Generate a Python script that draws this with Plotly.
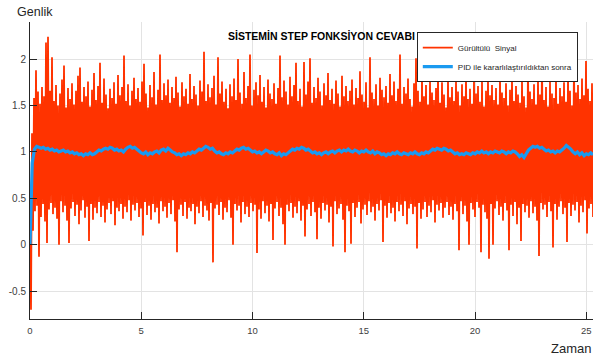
import numpy as np
import plotly.graph_objects as go

# Noisy step response (values in hundredths)
noisy_hundredths = [
    10, -70, 120, 15, 158, 36, 188, 42, 165, -13, 152, 30, 170, 44, 160, 25, 218, 2, 224, 38,
    166, 45, 202, 33, 155, 40, 172, 28, 150, 0, 163, 47, 178, 35, 193, 42, 148, 26, 169, 2,
    157, 39, 174, 46, 151, 31, 166, 43, 182, 22, 191, 37, 154, 48, 170, 29, 160, 41, 176, 4,
    149, 44, 167, 27, 185, 40, 156, 34, 171, 46, 196, 30, 153, 42, 179, 24, 162, 38, 147, 45,
    168, 33, 158, 47, 175, 21, 152, 40, 183, 36, 161, 44, 170, 28, 204, 41, 155, 35, 173, 48,
    150, 26, 166, 43, 180, 37, 157, 45, 169, 30, 154, 39, 176, 10, 195, 46, 163, 32, 148, 42,
    172, 27, 159, 44, 186, 35, 151, 40, 167, 23, 205, 47, 156, 36, 174, 41, 161, 29, 178, 45,
    153, 33, 170, 48, 158, 25, 181, -8, 164, 38, 149, 43, 175, 31, 160, 46, 168, 28, 152, 40,
    184, 36, 157, 44, 171, 22, 162, 41, 150, 34, 177, 47, 165, 30, 208, 42, 155, 37, 173, 26,
    159, 45, 169, -19, 182, 39, 151, 43, 202, 32, 163, 46, 176, 27, 154, 40, 168, 35, 147, 48,
    173, 29, 160, 0, 179, 44, 156, 37, 200, 42, 164, 24, 152, 46, 186, 33, 158, 41, 171, 30,
    205, 45, 150, 36, 167, 43, 175, -9, 161, 38, 183, 28, 154, 47, 170, 34, 148, 42, 178, 25,
    163, 44, 157, 5, 174, 39, 152, 46, 169, 31, 204, 40, 159, 22, 177, 0, 165, 43, 151, 36,
    181, 45, 160, 29, 172, 41, 196, 34, 155, 47, 168, 26, 149, 42, 197, 9, 162, 38, 176, 44,
    201, 31, 153, 46, 170, 35, 158, 6, 180, 40, 165, 28, 150, 45, 174, 37, 161, 43, 185, 24,
    156, 41, 168, -2, 152, 47, 177, 33, 163, 39, 149, 44, 182, 27, 160, -8, 171, 42, 155, 36,
    166, 1, 178, 45, 151, 30, 169, 40, 158, 46, 187, 23, 162, 38, 154, 43, 175, 32, 148, 47,
    202, 35, 164, 41, 157, 26, 173, 44, 150, 37, 180, 48, 167, 3, 159, 42, 171, 29, 153, 45,
    184, 34, 161, 40, 176, 25, 155, 46, 168, 36, 205, 43, 152, 31, 170, 47, 163, 22, 179, 39,
    157, 44, 149, 33, 174, 41, 201, -4, 166, 45, 154, 28, 183, 38, 160, 46, 172, 30, 151, 42,
    178, 35, 164, 48, 156, 24, 169, 43, 186, 37, 153, 45, 175, 29, 162, 40, 148, 46, 181, 32,
    159, 41, 170, 27, 155, 44, 177, 36, 165, -6, 150, 47, 173, 33, 160, 42, 184, 25, 157, 0,
    168, 45, 152, 38, 179, 30, 163, 46, 171, 40, 154, -8, 176, 43, 149, 35, 166, 28, 182, -15,
    161, 44, 172, 0, 156, 39, 169, 47, 151, 32, 185, 41, 164, 26, 158, 45, 174, 37, 150, -6,
    167, 43, 180, 31, 155, 46, 171, 22, 162, 40, 153, 4, 177, 44, 160, 35, 148, 42, 197, 29,
    165, 47, 157, 34, 173, 41, 151, 26, 183, -12, 162, 45, 203, 38, 156, 43, 170, 30, 149, 46,
    176, 36, 163, -3, 158, 44, 181, 27, 152, 41, 169, 47, 160, 33, 175, 40, 154, 3, 186, 45,
    166, 31, 150, 43, 201, 37, 164, 46, 172, 24, 157, 42, 179, 35, 161, 48, 198, 12, 168, 39,
    155, 44, 174, 30,
]

pid_response = [
    0.00, 0.88, 1.03, 1.06, 1.05, 1.04, 1.05, 1.03, 1.04, 1.02,
    1.03, 1.01, 1.02, 1.00, 1.01, 1.02, 1.00, 1.01, 0.99, 1.00,
    0.98, 0.99, 0.97, 0.98, 0.96, 0.98, 0.97, 0.99, 0.97, 0.98,
    1.00, 1.02, 1.01, 1.03, 1.04, 1.03, 1.05, 1.04, 1.02, 1.03,
    1.01, 1.02, 1.00, 1.03, 1.05, 1.06, 1.04, 1.05, 1.03, 1.01,
    0.99, 0.98, 1.00, 0.97, 0.99, 0.98, 1.00, 1.01, 0.99, 1.02,
    1.03, 1.01, 1.04, 1.02, 1.00, 0.99, 0.97, 0.98, 0.96, 0.98,
    0.97, 0.99, 0.98, 1.00, 0.99, 1.01, 1.03, 1.02, 1.04, 1.06,
    1.05, 1.03, 1.04, 1.01, 0.99, 1.00, 0.98, 0.97, 0.99, 0.98,
    1.00, 0.99, 1.01, 1.03, 1.02, 1.04, 1.05, 1.03, 1.04, 1.02,
    1.00, 1.01, 0.99, 1.00, 0.98, 1.00, 1.02, 1.01, 0.99, 1.00,
    0.98, 0.97, 0.99, 0.96, 0.98, 0.97, 0.99, 1.01, 1.03, 1.02,
    1.04, 1.03, 1.05, 1.04, 1.02, 1.03, 1.01, 0.99, 1.00, 0.98,
    0.99, 0.97, 0.99, 1.00, 0.98, 1.00, 1.01, 0.99, 1.01, 1.02,
    1.00, 1.02, 1.01, 1.03, 1.01, 1.00, 1.02, 1.01, 0.99, 1.01,
    1.00, 1.02, 1.00, 0.99, 1.01, 0.98, 1.00, 0.99, 0.97, 0.98,
    0.96, 0.98, 0.97, 0.99, 0.98, 1.00, 0.98, 0.97, 0.99, 0.98,
    0.97, 0.99, 0.98, 1.00, 0.98, 0.97, 0.99, 0.98, 1.00, 0.99,
    1.01, 1.03, 1.02, 1.04, 1.03, 1.02, 1.04, 1.03, 1.01, 1.02,
    1.00, 0.98, 0.99, 0.97, 0.98, 0.97, 0.99, 0.98, 0.97, 0.99,
    0.98, 1.00, 0.99, 1.01, 0.99, 1.00, 0.98, 1.00, 0.99, 1.01,
    1.00, 0.99, 1.01, 1.00, 0.98, 1.00, 0.99, 1.01, 1.00, 0.98,
    0.95, 0.97, 0.94, 0.98, 1.02, 1.04, 1.06, 1.05, 1.06, 1.04,
    1.05, 1.03, 1.01, 1.02, 1.00, 1.01, 0.99, 1.01, 1.00, 1.02,
    1.04, 1.07, 1.05, 1.03, 1.00, 0.98, 1.00, 0.97, 0.99, 0.96,
    0.98, 0.97, 0.99, 0.97,
]

T_END = 25.3
x_ticks = [0, 5, 10, 15, 20, 25]
y_ticks = [-0.5, 0, 0.5, 1, 1.5, 2]
y_tick_labels = ["-0.5", "0", "0.5", "1", "1.5", "2"]

noisy = np.array(noisy_hundredths) / 100.0
t_noisy = np.linspace(0, T_END, len(noisy))
t_pid = np.linspace(0, T_END, len(pid_response))

RED = "#FF3300"
BLUE = "#1A9AF0"
TXT = "#262626"
FONT = "Liberation Sans, Arial, sans-serif"

fig = go.Figure()
fig.add_trace(go.Scatter(x=t_noisy, y=noisy, mode="lines", name="Gürültülü  Sinyal",
                         line=dict(color=RED, width=1.8, simplify=False)))
fig.add_trace(go.Scatter(x=t_pid, y=pid_response, mode="lines",
                         name="PID ile kararlılaştırıldıktan sonra",
                         line=dict(color=BLUE, width=3.2, simplify=False)))

axis_common = dict(showline=True, linecolor=TXT, linewidth=1, mirror=False,
                   ticks="inside", ticklen=7, tickcolor=TXT, tickwidth=1,
                   showgrid=True, gridcolor="#E3E3E3", gridwidth=1, zeroline=False)

fig.update_layout(
    width=598, height=358,
    margin=dict(l=30, r=5, t=22, b=39),
    paper_bgcolor="white", plot_bgcolor="white",
    font=dict(family=FONT, color=TXT),
    xaxis=dict(range=[0, T_END], tickvals=x_ticks, tickfont=dict(size=9.5, color="#404040"),
               ticklabelstandoff=3, **axis_common),
    yaxis=dict(range=[-0.8, 2.4], tickvals=y_ticks, ticktext=y_tick_labels,
               tickfont=dict(size=10, color="#404040"), ticklabelstandoff=1, **axis_common),
    showlegend=True,
    legend=dict(x=0.973, y=0.966, xanchor="right", yanchor="top",
                bgcolor="white", bordercolor=TXT, borderwidth=1,
                font=dict(size=8, family=FONT, color=TXT),
                itemwidth=30, tracegroupgap=0),
    annotations=[
        dict(text="<b>SİSTEMİN STEP FONKSİYON CEVABI</b>", xref="paper", yref="paper",
             x=0.518, y=0.953, xanchor="center", yanchor="middle", showarrow=False,
             font=dict(size=10.5, family=FONT, color="black")),
        dict(text="Genlik", xref="paper", yref="paper", x=-0.027, y=1.0,
             xanchor="left", yanchor="bottom", yshift=1, showarrow=False,
             font=dict(size=12.5, family=FONT, color=TXT)),
        dict(text="Zaman", xref="paper", yref="paper", x=1.0, y=0.0,
             xanchor="right", yanchor="top", yshift=-20, showarrow=False,
             font=dict(size=13, family=FONT, color=TXT)),
    ],
)

fig.write_html("out.html")
